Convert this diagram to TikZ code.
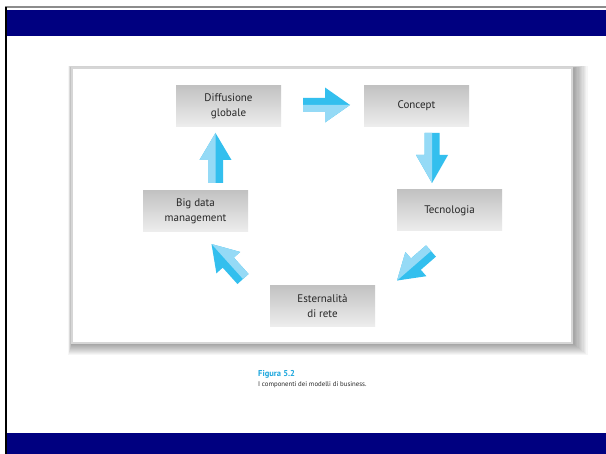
\documentclass[tikz,border=0pt]{standalone}
\usepackage{fontspec}
\setmainfont{PT Sans}
\definecolor{navyband}{HTML}{000080}
\definecolor{arrdark}{HTML}{33BFEE}
\definecolor{arrlight}{HTML}{95DAF6}
\definecolor{captblue}{HTML}{1BA6DD}
\newcommand{\blockarr}[8]{%
  \begin{scope}[shift={(#1,#2)},rotate=#3]
    \fill[arrdark] (0,-#5/2) -- (#4-#7,-#5/2) -- (#4-#7,-#6/2) -- (#4,0) -- (#4-#7,#6/2) -- (#4-#7,#5/2) -- (0,#5/2) -- cycle;
    \fill[arrlight] (0,0) -- (#4,0) -- (#4-#7,#8*#6/2) -- (#4-#7,#8*#5/2) -- (0,#8*#5/2) -- cycle;
  \end{scope}}
\tikzset{
  stage/.style={minimum width=105pt, minimum height=41pt, inner sep=0pt,
    top color=black!24, bottom color=black!7, align=center,
    text=black!85, font=\fontsize{11pt}{15pt}\selectfont},
}
\begin{document}
\begin{tikzpicture}[x=1pt,y=-1pt]
\useasboundingbox (0,0) rectangle (606,454);
\fill[white] (0,0) rectangle (606,454);
% frame
\fill[black!45] (5,6.5) rectangle (606,8);
\fill[black] (5,7) rectangle (7,454);
\fill[navyband] (7,10) rectangle (606,36);
\fill[navyband] (7,433) rectangle (606,454);
% panel shadow
\foreach \i in {1,...,12} {
  \fill[black,opacity=0.035] (72-\i*0.3,68-\i*0.2) rectangle (572+\i*1.3,343+\i*1.0);
}
\node[draw=black!16, line width=1.5pt, fill=white, inner sep=0pt, minimum width=500pt, minimum height=275pt] (panel) at (322,205.5) {};
% stages
\node[stage] (diff) at (228.5,106) {Diffusione\\globale};
\node[stage] (conc) at (416.5,106) {Concept};
\node[stage] (tecn) at (449.5,210.5) {Tecnologia};
\node[stage] (bigd) at (195.5,211) {Big data\\management};
\node[stage] (este) at (322.5,306) {Esternalità\\di rete};
% arrows
\blockarr{303}{105}{0}{47}{14}{35}{25}{1}
\blockarr{432}{133}{-90}{50}{15}{32}{28}{1}
\blockarr{431}{251}{221}{45}{15}{32}{25}{1}
\blockarr{243}{279}{132}{47}{15}{32}{25}{1}
\blockarr{215.5}{183}{90}{50}{15}{32}{27}{-1}
% caption
\node[anchor=base west, inner sep=0pt, text=captblue, font=\bfseries\fontsize{8.5pt}{9pt}\selectfont] (cap1) at (258,377) {Figura 5.2};
\node[anchor=base west, inner sep=0pt, text=black!85, font=\fontsize{6.8pt}{7pt}\selectfont] (cap2) at (258,386.5) {I componenti dei modelli di business.};
\end{tikzpicture}
\end{document}
